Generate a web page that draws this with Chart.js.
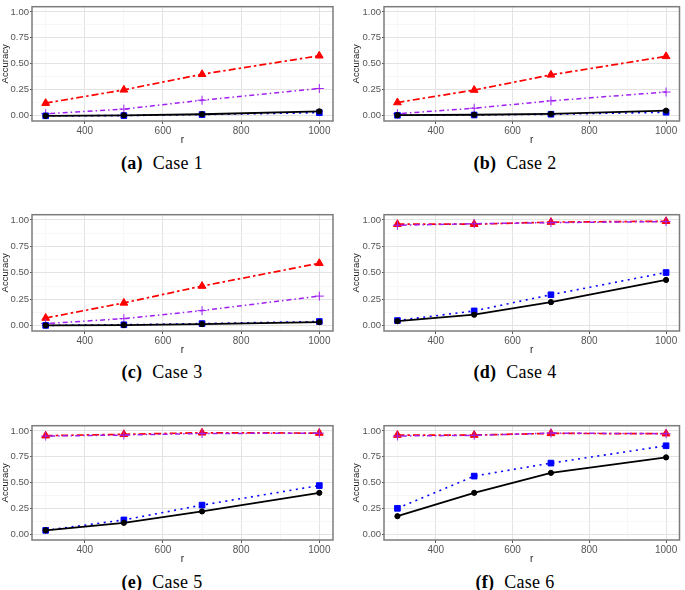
<!DOCTYPE html>
<html>
<head>
<meta charset="utf-8">
<script src="https://cdn.jsdelivr.net/npm/chart.js@4"></script>
<style>
body { margin:0; background:#fff; width:685px; height:590px; position:relative; overflow:hidden; }
.panel { position:absolute; }
.caption { position:absolute; text-align:center; font-family:"Liberation Serif", serif; font-size:18px; line-height:20px; color:#000; letter-spacing:0.3px; }
.caption b { margin-right:5px; }
</style>
</head>
<body>
<script>
// データ
const rValues = [300, 500, 700, 1000];
const xTickLabels = [400, 600, 800, 1000];
const xMinor = [300, 500, 700, 900];
const yTickLabels = [0, 0.25, 0.5, 0.75, 1];
const yMinor = [0.125, 0.375, 0.625, 0.875];
const caseLetters = ['a', 'b', 'c', 'd', 'e', 'f'];
const caseNames = ['Case 1', 'Case 2', 'Case 3', 'Case 4', 'Case 5', 'Case 6'];

// 各ケースの精度（黒・青・赤・紫）
const accBlack = [
    [0.000, 0.005, 0.015, 0.043],
    [0.006, 0.010, 0.018, 0.049],
    [0.003, 0.006, 0.015, 0.034],
    [0.043, 0.104, 0.223, 0.433],
    [0.043, 0.115, 0.225, 0.404],
    [0.179, 0.404, 0.596, 0.745]
];
const accBlue = [
    [0.000, 0.002, 0.012, 0.030],
    [0.005, 0.008, 0.015, 0.034],
    [0.003, 0.009, 0.020, 0.040],
    [0.049, 0.140, 0.293, 0.503],
    [0.043, 0.143, 0.286, 0.474],
    [0.255, 0.565, 0.690, 0.857]
];
const accRed = [
    [0.122, 0.250, 0.400, 0.578],
    [0.128, 0.248, 0.394, 0.572],
    [0.073, 0.216, 0.375, 0.591],
    [0.960, 0.960, 0.980, 0.988],
    [0.954, 0.967, 0.982, 0.979],
    [0.960, 0.960, 0.976, 0.973]
];
const accPurple = [
    [0.020, 0.064, 0.150, 0.263],
    [0.020, 0.073, 0.144, 0.229],
    [0.020, 0.067, 0.143, 0.280],
    [0.950, 0.965, 0.975, 0.985],
    [0.950, 0.960, 0.975, 0.978],
    [0.951, 0.957, 0.979, 0.973]
];

// パネル配置
const rowTops = [0, 208, 419];
const rowHeights = [120, 122, 120];
const captionY = [153, 362, 572];

// パネル枠を描くプラグイン
const panelBorder = {
    id: 'panelBorder',
    afterDatasetsDraw(chart) {
        const a = chart.chartArea;
        const ctx = chart.ctx;
        ctx.save();
        ctx.strokeStyle = '#7c7c7c';
        ctx.lineWidth = 1.5;
        ctx.strokeRect(a.left, a.top, a.right - a.left, a.bottom - a.top);
        ctx.restore();
    }
};

function toPoints(vals) {
    return rValues.map((r, i) => ({ x: r, y: vals[i] }));
}

function makePanel(i) {
    const col = i % 2;
    const row = Math.floor(i / 2);
    const w = col === 0 ? 340 : 345;
    const h = 1 + rowHeights[row] + 29;

    const canvas = document.createElement('canvas');
    canvas.className = 'panel';
    canvas.style.left = (col === 0 ? 0 : 340) + 'px';
    canvas.style.top = rowTops[row] + 'px';
    canvas.style.width = w + 'px';
    canvas.style.height = h + 'px';
    canvas.width = w;
    canvas.height = h;
    document.body.appendChild(canvas);

    const cap = document.createElement('div');
    cap.className = 'caption';
    cap.style.left = (col === 0 ? 0 : 345) + 'px';
    cap.style.width = (col === 0 ? 324 : 340) + 'px';
    cap.style.top = captionY[row] + 'px';
    cap.innerHTML = '<b>(' + caseLetters[i] + ')</b> ' + caseNames[i];
    document.body.appendChild(cap);

    const isMajorX = v => xTickLabels.includes(v);
    const isMajorY = v => yTickLabels.some(t => Math.abs(t - v) < 1e-6);

    new Chart(canvas, {
        type: 'line',
        data: {
            datasets: [{
                label: 'black',
                data: toPoints(accBlack[i]),
                borderColor: '#000000',
                backgroundColor: '#000000',
                borderWidth: 1.8,
                pointStyle: 'circle',
                pointRadius: 2.6,
                pointBorderWidth: 1
            }, {
                label: 'blue',
                data: toPoints(accBlue[i]),
                borderColor: '#0000ff',
                backgroundColor: '#0000ff',
                borderWidth: 1.6,
                borderDash: [2, 4.5],
                pointStyle: 'rect',
                pointRadius: 4,
                pointBorderWidth: 1
            }, {
                label: 'purple',
                data: toPoints(accPurple[i]),
                borderColor: '#a020f0',
                backgroundColor: '#a020f0',
                borderWidth: 1.5,
                borderDash: [1.5, 3, 5, 3],
                pointStyle: 'cross',
                pointRadius: 4.5,
                pointBorderWidth: 1
            }, {
                label: 'red',
                data: toPoints(accRed[i]),
                borderColor: '#ff0000',
                backgroundColor: '#ff0000',
                borderWidth: 1.7,
                borderDash: [7, 3, 2.5, 3],
                pointStyle: 'triangle',
                pointRadius: 4.5,
                pointBorderWidth: 1
            }]
        },
        options: {
            responsive: false,
            animation: false,
            events: [],
            layout: { padding: { left: col === 0 ? 0 : 11, right: col === 0 ? 7 : 2, top: 1, bottom: 0 } },
            plugins: { legend: { display: false }, tooltip: { enabled: false } },
            scales: {
                x: {
                    type: 'linear',
                    min: 265,
                    max: 1035,
                    afterFit: s => { s.height = 29; },
                    afterBuildTicks: s => {
                        s.ticks = xMinor.concat(xTickLabels).sort((a, b) => a - b).map(v => ({ value: v }));
                    },
                    border: { display: false },
                    grid: {
                        color: c => isMajorX(c.tick.value) ? '#e3e3e3' : '#f1f1f1',
                        lineWidth: c => isMajorX(c.tick.value) ? 1 : 0.6,
                        tickColor: c => isMajorX(c.tick.value) ? '#555555' : 'rgba(0,0,0,0)',
                        tickLength: 3
                    },
                    ticks: {
                        autoSkip: false,
                        maxRotation: 0,
                        padding: 1,
                        color: '#555555',
                        font: { family: 'Liberation Sans', size: 10 },
                        callback: v => isMajorX(v) ? String(v) : ''
                    },
                    title: {
                        display: true,
                        text: 'r',
                        color: '#1a1a1a',
                        font: { family: 'Liberation Sans', size: 10 },
                        padding: { top: 0, bottom: 4 }
                    }
                },
                y: {
                    min: -0.05,
                    max: 1.05,
                    afterFit: s => { s.width = col === 0 ? 32 : 33; },
                    afterBuildTicks: s => {
                        s.ticks = yMinor.concat(yTickLabels).sort((a, b) => a - b).map(v => ({ value: v }));
                    },
                    border: { display: false },
                    grid: {
                        color: c => isMajorY(c.tick.value) ? '#e3e3e3' : '#f1f1f1',
                        lineWidth: c => isMajorY(c.tick.value) ? 1 : 0.6,
                        tickColor: c => isMajorY(c.tick.value) ? '#555555' : 'rgba(0,0,0,0)',
                        tickLength: 2
                    },
                    ticks: {
                        autoSkip: false,
                        padding: 1,
                        color: '#555555',
                        font: { family: 'Liberation Sans', size: 9.5 },
                        callback: v => isMajorY(v) ? v.toFixed(2) : ''
                    },
                    title: {
                        display: true,
                        text: 'Accuracy',
                        color: '#1a1a1a',
                        font: { family: 'Liberation Sans', size: 9.5 },
                        padding: { top: 0, bottom: 0 }
                    }
                }
            }
        },
        plugins: [panelBorder]
    });
}

for (let i = 0; i < 6; i++) {
    makePanel(i);
}
</script>
</body>
</html>
